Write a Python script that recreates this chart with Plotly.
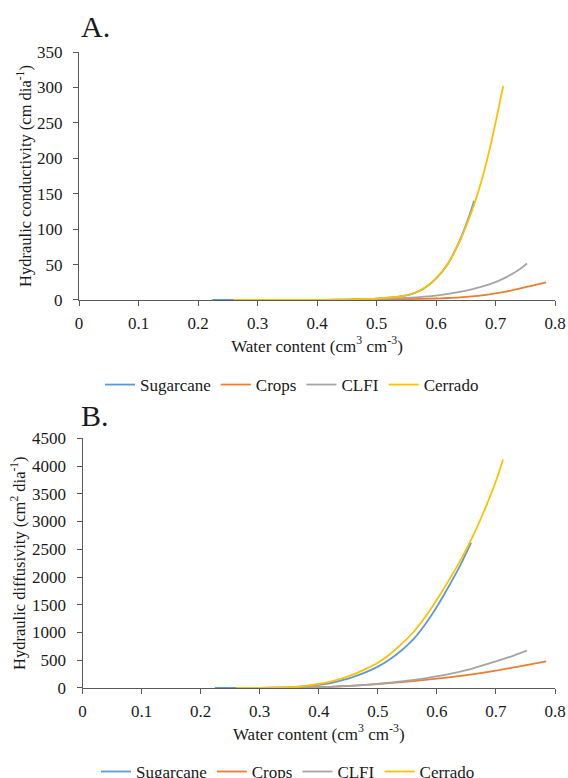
import plotly.graph_objects as go

# ---------------- Panel A: hydraulic conductivity (cm dia-1) ----------------
sug_k_theta = [0.224, 0.30, 0.35, 0.40, 0.43, 0.45, 0.47, 0.49, 0.50, 0.51, 0.52, 0.53, 0.54, 0.55,
               0.56, 0.57, 0.58, 0.59, 0.60, 0.61, 0.62, 0.63, 0.64, 0.65, 0.66, 0.664]
sug_k = [0, 0, 0.02, 0.12, 0.35, 0.6, 1.0, 1.5, 1.9, 2.5, 3.2, 4.1, 5.2, 6.5,
         8.6, 12.0, 16.4, 22.4, 30.0, 39.5, 51.0, 66.5, 84, 105, 129, 140]

crp_k_theta = [0.27, 0.35, 0.40, 0.45, 0.50, 0.55, 0.60, 0.62, 0.64, 0.66, 0.68, 0.70, 0.72,
               0.74, 0.76, 0.785]
crp_k = [0, 0.02, 0.08, 0.2, 0.5, 1.1, 2.1, 2.8, 3.7, 5.0, 6.8, 9.2, 12.2, 16.0, 20.0, 25]

clf_k_theta = [0.29, 0.35, 0.40, 0.45, 0.50, 0.52, 0.54, 0.56, 0.58, 0.60, 0.62, 0.64, 0.66,
               0.68, 0.70, 0.72, 0.74, 0.753]
clf_k = [0, 0.02, 0.12, 0.4, 1.2, 1.8, 2.5, 3.4, 4.6, 6.2, 8.6, 11.5, 15.0, 19.5, 25.3, 33.0,
         43.0, 51.4]

cer_k_theta = [0.26, 0.30, 0.35, 0.40, 0.43, 0.45, 0.47, 0.49, 0.50, 0.51, 0.52, 0.53, 0.54,
               0.55, 0.56, 0.57, 0.58, 0.59, 0.60, 0.61, 0.62, 0.63, 0.64, 0.65, 0.66, 0.67,
               0.68, 0.69, 0.70, 0.713]
cer_k = [0, 0, 0.02, 0.12, 0.35, 0.6, 1.0, 1.5, 1.9, 2.5, 3.2, 4.1, 5.2,
         6.6, 8.8, 12.3, 16.7, 22.8, 30.5, 40, 51, 66, 83, 103, 125, 150,
         179, 212, 250, 302]

# ---------------- Panel B: hydraulic diffusivity (cm2 dia-1) ----------------
sug_d_theta = [0.224, 0.30, 0.34, 0.36, 0.38, 0.40, 0.42, 0.44, 0.46, 0.48, 0.50, 0.52, 0.54,
               0.56, 0.58, 0.60, 0.62, 0.64, 0.658]
sug_d = [0, 2, 9, 18, 33, 55, 90, 140, 205, 285, 385, 515, 675, 875, 1145, 1465, 1830, 2220, 2620]

crp_d_theta = [0.27, 0.34, 0.38, 0.42, 0.46, 0.50, 0.54, 0.58, 0.62, 0.66, 0.70, 0.74, 0.785]
crp_d = [0, 3, 10, 22, 42, 72, 105, 145, 192, 245, 312, 390, 480]

clf_d_theta = [0.29, 0.34, 0.38, 0.42, 0.46, 0.50, 0.54, 0.58, 0.62, 0.66, 0.70, 0.73, 0.7526]
clf_d = [0, 3, 10, 22, 42, 75, 118, 175, 250, 350, 480, 585, 672]

cer_d_theta = [0.26, 0.30, 0.34, 0.36, 0.38, 0.40, 0.42, 0.44, 0.46, 0.48, 0.50, 0.52, 0.54,
               0.56, 0.58, 0.60, 0.62, 0.64, 0.66, 0.68, 0.70, 0.712]
cer_d = [0, 3, 12, 22, 42, 72, 115, 175, 250, 345, 455, 605, 790, 1005, 1275, 1590, 1935,
         2305, 2715, 3190, 3730, 4120]

series_names = ["Sugarcane", "Crops", "CLFI", "Cerrado"]
series_colors = ["#5B9BD5", "#ED7D31", "#A5A5A5", "#FFC000"]

panel_a = [(sug_k_theta, sug_k), (crp_k_theta, crp_k), (clf_k_theta, clf_k), (cer_k_theta, cer_k)]
panel_b = [(sug_d_theta, sug_d), (crp_d_theta, crp_d), (clf_d_theta, clf_d), (cer_d_theta, cer_d)]

FONT = "Liberation Serif, Times New Roman, serif"
TXT = "#1a1a1a"
AX = "#595959"
FS = 17

fig = go.Figure()
for (xs, ys), name, col in zip(panel_a, series_names, series_colors):
    fig.add_trace(go.Scatter(x=xs, y=ys, mode="lines", name=name,
                             line=dict(color=col, width=1.8, shape="spline", smoothing=0.8),
                             xaxis="x", yaxis="y", legend="legend"))
for (xs, ys), name, col in zip(panel_b, series_names, series_colors):
    fig.add_trace(go.Scatter(x=xs, y=ys, mode="lines", name=name,
                             line=dict(color=col, width=1.8, shape="spline", smoothing=0.8),
                             xaxis="x2", yaxis="y2", legend="legend2"))

common_x = dict(range=[0, 0.8], dtick=0.1, tick0=0, showgrid=False, zeroline=False,
                showline=True, linecolor=AX, linewidth=1, ticks="outside", ticklen=5,
                tickcolor=AX, tickwidth=1, layer="below traces",
                tickfont=dict(family=FONT, size=FS, color=TXT), ticklabelstandoff=3)
common_y = dict(showgrid=False, zeroline=False, showline=True, linecolor=AX, linewidth=1,
                ticks="outside", ticklen=5, tickcolor=AX, tickwidth=1, layer="below traces",
                tickfont=dict(family=FONT, size=FS, color=TXT), ticklabelstandoff=7)

fig.update_layout(
    width=568, height=778,
    margin=dict(l=79, r=13, t=52, b=90, autoexpand=False),
    paper_bgcolor="white", plot_bgcolor="white",
    font=dict(family=FONT, size=FS, color=TXT),
    xaxis=dict(domain=[0, 1], anchor="y",
               title=dict(text="Water content (cm<sup>3</sup> cm<sup>-3</sup>)",
                          font=dict(family=FONT, size=FS, color=TXT), standoff=6),
               **common_x),
    yaxis=dict(domain=[0.6101, 1], anchor="x", range=[0, 350], dtick=50,
               title=dict(text="Hydraulic conductivity (cm dia<sup>-1</sup>)",
                          font=dict(family=FONT, size=16.5, color=TXT), standoff=1),
               **common_y),
    xaxis2=dict(domain=[0.0074, 1], anchor="y2",
                title=dict(text="Water content (cm<sup>3</sup> cm<sup>-3</sup>)",
                           font=dict(family=FONT, size=FS, color=TXT), standoff=6),
                **common_x),
    yaxis2=dict(domain=[0, 0.3926], anchor="x2", range=[0, 4500], dtick=500,
                title=dict(text="Hydraulic diffusivity (cm<sup>2</sup> dia<sup>-1</sup>)",
                           font=dict(family=FONT, size=16.5, color=TXT), standoff=2),
                **common_y),
    legend=dict(orientation="h", x=0.4475, xanchor="center", y=0.4764, yanchor="middle",
                font=dict(family=FONT, size=FS, color=TXT), bgcolor="rgba(0,0,0,0)",
                itemwidth=30, traceorder="normal"),
    legend2=dict(orientation="h", x=0.439, xanchor="center", y=-0.132, yanchor="middle",
                 font=dict(family=FONT, size=FS, color=TXT), bgcolor="rgba(0,0,0,0)",
                 itemwidth=30, traceorder="normal"),
    showlegend=True,
    annotations=[
        dict(text="A.", x=0.0, xref="paper", xanchor="left", y=1.0, yref="paper",
             yanchor="bottom", xshift=0, yshift=7, showarrow=False,
             font=dict(family=FONT, size=30, color=TXT)),
        dict(text="B.", x=0.0, xref="paper", xanchor="left", y=0.3926, yref="paper",
             yanchor="bottom", xshift=0, yshift=4, showarrow=False,
             font=dict(family=FONT, size=30, color=TXT)),
    ],
)

fig.write_html("out.html", config={"displayModeBar": False},
               post_script="document.body.style.margin='0';")
